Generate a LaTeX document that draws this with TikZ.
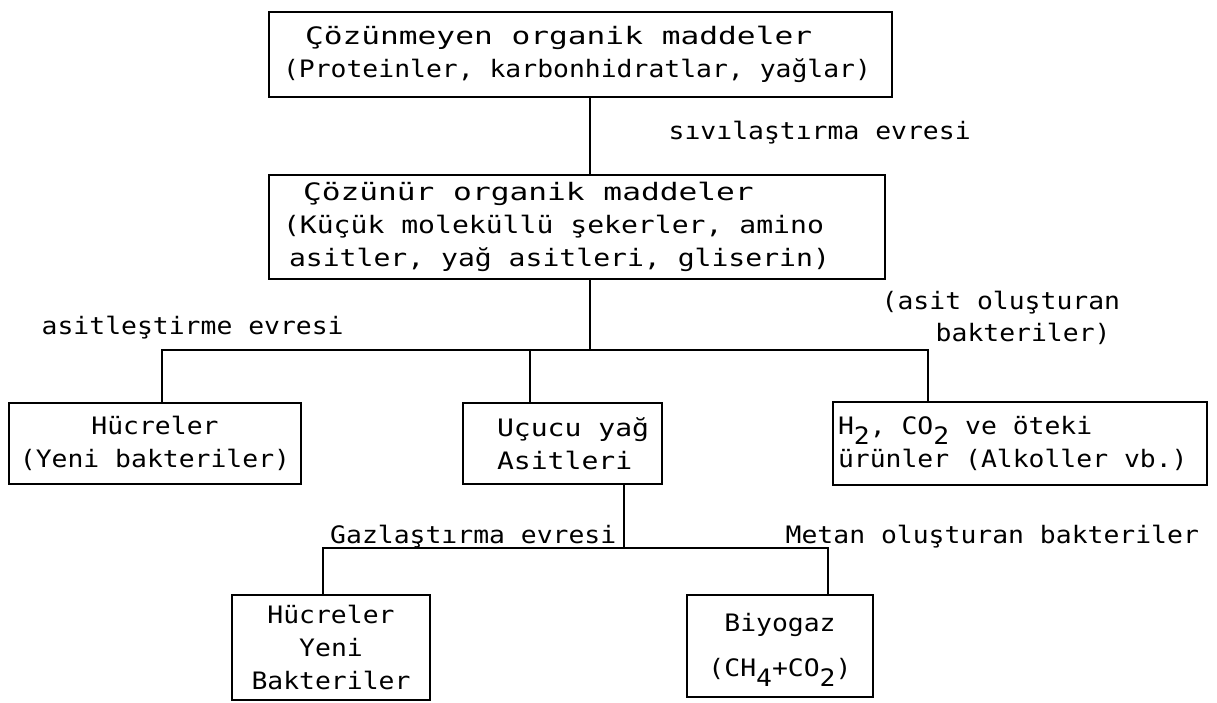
\documentclass[tikz,border=0pt]{standalone}
\usepackage{fontspec}
\setmainfont{DejaVu Sans Mono}[FakeStretch=1.1]
\newfontfamily\fAx{DejaVu Sans Mono}[FakeStretch=1.17]
\newfontfamily\fBx{DejaVu Sans Mono}[FakeStretch=1.3]
\newfontfamily\fCx{DejaVu Sans Mono}[FakeStretch=1.1]
\newcommand{\fA}{\fAx\spaceskip=16.9pt\relax}
\newcommand{\fB}{\fBx\spaceskip=18.78pt\relax}
\newcommand{\fC}{\fCx\spaceskip=15.89pt\relax}
\newcommand{\lowsub}[1]{\raisebox{-10pt}[0pt][0pt]{#1}}
\begin{document}
\begin{tikzpicture}[x=1pt,y=-1pt,
  font=\fontsize{24}{33}\selectfont\fC,
  line width=1.4pt,
  box/.style={draw, line width=1.4pt, inner ysep=0pt},
  lbl/.style={inner sep=0pt}]
\fill[white] (0,0) rectangle (1217,702);
\useasboundingbox (0,0) rectangle (1217,702);

% boxes
\node[box, minimum height=85pt, text width=595pt, inner xsep=14pt, align=left] (b1) at (580.5,54.5)
  {\hspace*{22pt}{\fB Çözünmeyen organik maddeler}\\{\fC (Proteinler, karbonhidratlar, yağlar)}};
\node[box, minimum height=104pt, text width=588pt, inner xsep=14pt, align=left] (b2) at (577,227)
  {\hspace*{20pt}{\fB Çözünür organik maddeler}\\{\fA (Küçük moleküllü şekerler, amino}\\\hspace*{6pt}{\fA asitler, yağ asitleri, gliserin)}};
\node[box, minimum height=81pt, text width=292pt, inner xsep=0pt, align=center] (b3) at (155,443.5)
  {\fC Hücreler\\\fC (Yeni bakteriler)};
\node[box, minimum height=81pt, text width=199pt, inner xsep=0pt, align=left] (b4) at (562.5,443.5)
  {\fA\hspace*{34pt}Uçucu yağ\\\hspace*{34pt}Asitleri};
\node[box, minimum height=83pt, text width=364pt, inner xsep=5pt, align=left] (b5) at (1020,443.5)
  {\fC H\lowsub{2}, CO\lowsub{2} ve öteki\\\fC ürünler (Alkoller vb.)};
\node[box, minimum height=105pt, text width=198pt, inner xsep=0pt, align=center] (b6) at (331,647.5)
  {\fC Hücreler\\Yeni\\Bakteriler};
\node[box, minimum height=102pt, text width=186pt, inner xsep=0pt, align=center] (b7) at (780,646)
  {\fC Biyogaz\\[12pt]\fC (CH\lowsub{4}+CO\lowsub{2})};

% connectors
\coordinate (c12) at (590,0);
\draw (b1.south -| c12) -- (b2.north -| c12);
\coordinate (h1) at (590,350);
\coordinate (hL) at (162,350);
\coordinate (hM) at (530,350);
\coordinate (hR) at (928,350);
\draw (b2.south -| h1) -- (h1);
\draw (b3.north -| hL) -- (hL) -- (hR) -- (b5.north -| hR);
\draw (hM) -- (b4.north -| hM);
\coordinate (h2) at (624,548);
\coordinate (gL) at (323,548);
\coordinate (gR) at (828,548);
\draw (b4.south -| h2) -- (h2);
\draw (b6.north -| gL) -- (gL) -- (gR) -- (b7.north -| gR);

% labels
\node[lbl, anchor=base west] (l1) at (668,139) {sıvılaştırma evresi};
\node[lbl, anchor=base west] (l2) at (41,334) {asitleştirme evresi};
\node[lbl, anchor=base west] (l3) at (881,309) {(asit oluşturan};
\node[lbl, anchor=base west] (l4) at (935,341) {bakteriler)};
\node[lbl, anchor=base east] (l5) at (617,543) {Gazlaştırma evresi};
\node[lbl, anchor=base west] (l6) at (785,543) {Metan oluşturan bakteriler};
\end{tikzpicture}
\end{document}
